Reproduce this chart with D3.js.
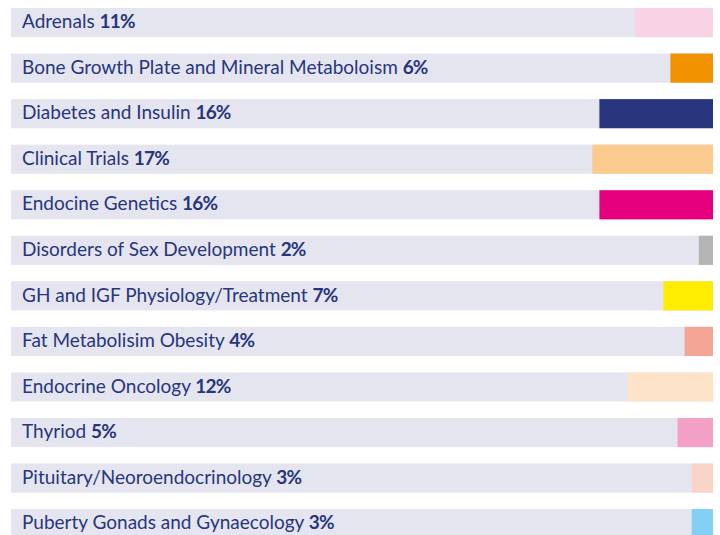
<!DOCTYPE html>
<html>
<head>
<meta charset="utf-8">
<script src="https://cdn.jsdelivr.net/npm/d3@7"></script>
<style>
  body { margin: 0; background: #fff; }
  svg { display: block; }
</style>
</head>
<body>
<div id="root"></div>
<script>
const categories = [
  "Adrenals",
  "Bone Growth Plate and Mineral Metaboloism",
  "Diabetes and Insulin",
  "Clinical Trials",
  "Endocine Genetics",
  "Disorders of Sex Development",
  "GH and IGF Physiology/Treatment",
  "Fat Metabolisim Obesity",
  "Endocrine Oncology",
  "Thyriod",
  "Pituitary/Neoroendocrinology",
  "Puberty Gonads and Gynaecology"
];
const percents = [11, 6, 16, 17, 16, 2, 7, 4, 12, 5, 3, 3];
const colors = [
  "#f7d3e5", "#f39200", "#27367d", "#fbca8e", "#e6007e", "#b4b4b4",
  "#ffed00", "#f5a595", "#fde4c8", "#f3a0c7", "#f9d5c8", "#83d0f5"
];

const width = 720, height = 535;
const left = 11, right = 713;
const step = 45.55, pad = 0.36;

const svg = d3.select("#root")
  .append("svg")
  .attr("width", width)
  .attr("height", height);

const y = d3.scaleBand()
  .domain(categories)
  .range([8, 8 + step * (categories.length - pad)])
  .paddingInner(pad)
  .paddingOuter(0);

const x = d3.scaleLinear().domain([0, 100]).range([0, 710]);

const rows = svg.selectAll("g.row")
  .data(categories)
  .join("g")
    .attr("class", "row")
    .attr("transform", d => `translate(0,${y(d)})`);

rows.append("rect")
  .attr("x", left)
  .attr("width", right - left)
  .attr("height", y.bandwidth())
  .attr("fill", "#e5e5ef");

rows.append("rect")
  .attr("x", (d, i) => right - x(percents[i]))
  .attr("width", (d, i) => x(percents[i]))
  .attr("height", y.bandwidth())
  .attr("fill", (d, i) => colors[i]);

const label = rows.append("text")
  .attr("x", 22)
  .attr("y", y.bandwidth() / 2)
  .attr("dy", "0.3em")
  .attr("font-family", "Lato, sans-serif")
  .attr("font-size", 19)
  .attr("fill", "#27367d");

label.append("tspan").text(d => d + " ");
label.append("tspan")
  .attr("font-weight", "bold")
  .attr("letter-spacing", -0.8)
  .text((d, i) => percents[i] + "%");
</script>
</body>
</html>
